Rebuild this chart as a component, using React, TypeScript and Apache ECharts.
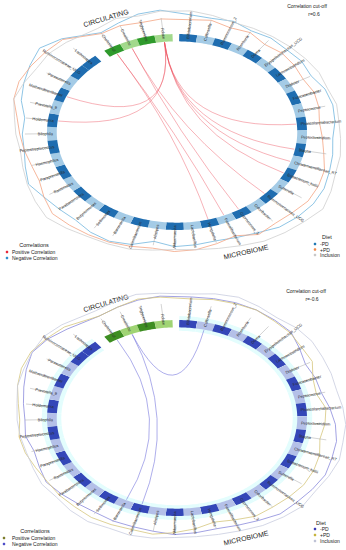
import React, { useEffect, useRef } from "react";
import * as echarts from "echarts";

// ---------------- data ----------------
const circulating = ["Cholesterol", "Creatinine", "Triglycerides", "Folate"];
const microbiome = [
  "Bifidobacterium", "Collinsella", "Ruminococcus_2", "Roseburia", "Dorea",
  "Erysipelotrichaceae_UCG", "Lachnoclostridium", "Dialister", "Fusicatenibacter", "Peptococcus",
  "Phascolarctobacterium", "Peptoclostridium", "Blautia", "Christensenellaceae_R7", "Eubacterium_hallii",
  "Sutterella", "Ruminococcaceae_UCG", "Odoribacter", "Coprococcus_3", "Faecalibacterium",
  "Hungatella", "Lactobacillus", "Akkermansia", "Alistipes", "Catenibacterium",
  "Barnesiella", "Sellimonas", "Butyricimonas", "Parabacteroides", "Bacteroides",
  "Paraprevotella", "Haemophilus", "Peptostreptococcus", "Bilophila", "Holdemania",
  "Prevotella_9", "Methanobrevibacter", "Parasutterella", "Ruminococcaceae_UCG", "Lachnospira",
];

const circulatingShadeTop = [1, 0, 1, 0];
const microbiomeShadeTop = [
  1, 0, 1, 0, 1, 0, 1, 0, 1, 0,
  1, 0, 1, 0, 1, 0, 1, 0, 1, 0,
  1, 0, 1, 0, 1, 0, 1, 0, 1, 0,
  1, 0, 1, 0, 1, 0, 1, 0, 1, 1,
];
const circulatingShadeBottom = [1, 0, 1, 0];
const microbiomeShadeBottom = [
  1, 0, 1, 0, 1, 0, 1, 0, 1, 0,
  1, 0, 1, 0, 1, 0, 1, 0, 1, 0,
  1, 0, 1, 0, 1, 0, 1, 0, 1, 0,
  1, 0, 1, 0, 1, 0, 1, 0, 1, 1,
];

// outer diet traces (radius relative to ring), order: 4 circulating then 40 microbiome
const minusPDTop = [
  1.17, 1.2, 1.24, 1.25,
  1.2, 1.19, 1.21, 1.18, 1.2, 1.19, 1.2, 1.18, 1.22, 1.23,
  1.22, 1.2, 1.22, 1.24, 1.27, 1.28, 1.27, 1.25, 1.2, 1.17,
  1.15, 1.16, 1.17, 1.13, 1.2, 1.23, 1.22, 1.19, 1.2, 1.22,
  1.26, 1.22, 1.19, 1.19, 1.18, 1.24, 1.28, 1.32, 1.36, 1.3,
];
const plusPDTop = [
  1.16, 1.17, 1.15, 1.16,
  1.15, 1.17, 1.14, 1.16, 1.12, 1.14, 1.13, 1.11, 1.13, 1.12,
  1.1, 1.12, 1.15, 1.2, 1.22, 1.23, 1.21, 1.2, 1.22, 1.15,
  1.18, 1.21, 1.22, 1.2, 1.22, 1.24, 1.25, 1.26, 1.27, 1.22,
  1.17, 1.17, 1.19, 1.21, 1.24, 1.3, 1.32, 1.31, 1.3, 1.29,
];
const inclusionTop = [
  1.22, 1.25, 1.22, 1.24,
  1.24, 1.22, 1.2, 1.21, 1.22, 1.23, 1.24, 1.25, 1.24, 1.26,
  1.25, 1.26, 1.28, 1.29, 1.33, 1.37, 1.34, 1.32, 1.3, 1.26,
  1.23, 1.21, 1.2, 1.22, 1.25, 1.26, 1.27, 1.3, 1.33, 1.3,
  1.27, 1.24, 1.22, 1.24, 1.26, 1.3, 1.28, 1.26, 1.27, 1.25,
];
const minusPDBottom = [
  1.2, 1.22, 1.24, 1.25,
  1.24, 1.25, 1.26, 1.26, 1.25, 1.24, 1.18, 1.13, 1.14, 1.14,
  1.18, 1.22, 1.25, 1.26, 1.28, 1.27, 1.26, 1.26, 1.22, 1.19,
  1.17, 1.18, 1.19, 1.17, 1.16, 1.16, 1.15, 1.16, 1.18, 1.2,
  1.17, 1.15, 1.18, 1.17, 1.19, 1.22, 1.26, 1.3, 1.28, 1.24,
];
const plusPDBottom = [
  1.2, 1.22, 1.25, 1.24,
  1.22, 1.24, 1.25, 1.26, 1.24, 1.23, 1.2, 1.19, 1.12, 1.1,
  1.15, 1.14, 1.12, 1.16, 1.18, 1.19, 1.18, 1.17, 1.17, 1.13,
  1.1, 1.14, 1.17, 1.2, 1.19, 1.2, 1.21, 1.2, 1.2, 1.19,
  1.2, 1.22, 1.23, 1.21, 1.23, 1.27, 1.3, 1.31, 1.29, 1.27,
];
const inclusionBottom = [
  1.26, 1.28, 1.3, 1.28,
  1.27, 1.3, 1.32, 1.3, 1.28, 1.3, 1.3, 1.28, 1.27, 1.26,
  1.28, 1.3, 1.3, 1.32, 1.31, 1.3, 1.32, 1.3, 1.28, 1.25,
  1.23, 1.22, 1.22, 1.24, 1.25, 1.24, 1.26, 1.25, 1.23, 1.24,
  1.22, 1.21, 1.22, 1.23, 1.24, 1.27, 1.28, 1.3, 1.32, 1.3,
];

// [circulating index, microbiome index]
const positiveLinks = [
  [3, 10], [3, 12], [3, 13], [3, 14], [3, 34], [3, 36],
  [1, 16], [1, 18], [0, 19], [0, 20],
];
const negativeLinks = [[0, 25], [1, 24], [1, 1]];

const dietNames = ["-PD", "+PD", "Inclusion"];

// ---------------- layout helpers ----------------
const rad = Math.PI / 180;
const SECTOR = 8;
const CIRC_START = 124;
const MICRO_START = 89;
const R_OUT = 1;
const R_IN = 0.925;
const R_LABEL = 0.955;
const R_CHORD = 0.92;
const sectorNames = [...circulating, ...microbiome];
const NC = circulating.length;

function sectorCenter(i: number) {
  return i < NC
    ? CIRC_START - SECTOR * (i + 0.5)
    : MICRO_START - SECTOR * (i - NC + 0.5);
}

const FONT = "'Liberation Sans', Arial, sans-serif";

function makeRing(palette: any) {
  return (params: any, api: any) => {
    const i = api.value(2);
    const shade = api.value(3);
    const isCirc = api.value(4);
    const c = sectorCenter(i);
    const a0 = c + SECTOR / 2;
    const pts: number[][] = [];
    const halo: number[][] = [];
    for (let k = 0; k <= SECTOR; k++) {
      const a = (a0 - k) * rad;
      pts.push(api.coord([R_OUT * Math.cos(a), R_OUT * Math.sin(a)]));
      halo.push(api.coord([1.04 * Math.cos(a), 1.04 * Math.sin(a)]));
    }
    for (let k = SECTOR; k >= 0; k--) {
      const a = (a0 - k) * rad;
      pts.push(api.coord([R_IN * Math.cos(a), R_IN * Math.sin(a)]));
      halo.push(api.coord([0.89 * Math.cos(a), 0.89 * Math.sin(a)]));
    }
    const fill = isCirc
      ? shade ? palette.greenDark : palette.greenLight
      : shade ? palette.blueDark : palette.blueLight;
    const am = c * rad;
    const p0 = api.coord([0, 0]);
    const pl = api.coord([R_LABEL * Math.cos(am), R_LABEL * Math.sin(am)]);
    const t0 = api.coord([1.0 * Math.cos(am), 1.0 * Math.sin(am)]);
    const t1 = api.coord([1.17 * Math.cos(am), 1.17 * Math.sin(am)]);
    const dx = pl[0] - p0[0];
    const dy = pl[1] - p0[1];
    const phi = Math.atan2(-dy, dx);
    const right = dx >= 0;
    const children: any[] = [];
    if (palette.halo && !isCirc) {
      children.push({ type: "polygon", shape: { points: halo }, style: { fill: palette.halo } });
    }
    children.push({ type: "polygon", shape: { points: pts }, style: { fill } });
    children.push({
      type: "line",
      shape: { x1: t0[0], y1: t0[1], x2: t1[0], y2: t1[1] },
      style: { stroke: "#a8a8a8", lineWidth: 0.5 },
    });
    children.push({
      type: "text",
      x: pl[0],
      y: pl[1],
      rotation: right ? phi : phi - Math.PI,
      style: {
        text: sectorNames[i],
        fontSize: 4,
        fontFamily: FONT,
        fill: "#2a2a2a",
        align: right ? "left" : "right",
        verticalAlign: "middle",
      },
    });
    return { type: "group", children };
  };
}

function makeChord(color: string) {
  return (params: any, api: any) => {
    const a = sectorCenter(api.value(2)) * rad;
    const b = sectorCenter(api.value(3)) * rad;
    const p1 = api.coord([R_CHORD * Math.cos(a), R_CHORD * Math.sin(a)]);
    const p2 = api.coord([R_CHORD * Math.cos(b), R_CHORD * Math.sin(b)]);
    const cp = api.coord([0, 0]);
    return {
      type: "bezierCurve",
      shape: { x1: p1[0], y1: p1[1], x2: p2[0], y2: p2[1], cpx1: cp[0], cpy1: cp[1] },
      style: { stroke: color, fill: "none", lineWidth: 0.7 },
    };
  };
}

const panels = [
  {
    top: 4.6,
    circShade: circulatingShadeTop,
    microShade: microbiomeShadeTop,
    diet: [minusPDTop, plusPDTop, inclusionTop],
    dietLine: ["#72b6de", "#f4a583", "#cfcfcf"],
    links: positiveLinks,
    linkColor: "rgba(236,72,86,0.6)",
    palette: {
      blueDark: "#1f6db0",
      blueLight: "#a4cbe6",
      greenDark: "#2f9a2c",
      greenLight: "#a2d98c",
      halo: null,
    },
  },
  {
    top: 290.6,
    circShade: circulatingShadeBottom,
    microShade: microbiomeShadeBottom,
    diet: [minusPDBottom, plusPDBottom, inclusionBottom],
    dietLine: ["#8a8adc", "#d6c67e", "#c9cde0"],
    links: negativeLinks,
    linkColor: "rgba(118,118,222,0.85)",
    palette: {
      blueDark: "#3447b8",
      blueLight: "#b4c0e8",
      greenDark: "#3e8e22",
      greenLight: "#a0d474",
      halo: "#e3fdfd",
    },
  },
];

function buildOption() {
  const series: any[] = [];
  panels.forEach((p, pi) => {
    p.diet.forEach((vals, di) => {
      const pts = vals.map((r, i) => {
        const a = sectorCenter(i) * rad;
        return [r * Math.cos(a), r * Math.sin(a)];
      });
      pts.push(pts[0]);
      series.push({
        type: "line",
        name: dietNames[di],
        xAxisIndex: pi,
        yAxisIndex: pi,
        data: pts,
        symbol: "none",
        clip: false,
        silent: true,
        z: 1,
        lineStyle: { color: p.dietLine[di], width: 0.8 },
      });
    });
    const ringData = sectorNames.map((_, i) => [
      0, 0, i,
      i < NC ? p.circShade[i] : p.microShade[i - NC],
      i < NC ? 1 : 0,
    ]);
    series.push({
      type: "custom",
      xAxisIndex: pi,
      yAxisIndex: pi,
      coordinateSystem: "cartesian2d",
      data: ringData,
      renderItem: makeRing(p.palette),
      silent: true,
      clip: false,
      z: 3,
    });
    series.push({
      type: "custom",
      xAxisIndex: pi,
      yAxisIndex: pi,
      coordinateSystem: "cartesian2d",
      data: p.links.map(([c, m]) => [0, 0, c, NC + m]),
      renderItem: makeChord(p.linkColor),
      silent: true,
      clip: false,
      z: 4,
    });
  });

  const txt = (x: number, y: number, text: string, size: number, extra: any = {}) => ({
    type: "text",
    x,
    y,
    rotation: extra.rotation || 0,
    style: {
      text,
      fontSize: size,
      fontFamily: FONT,
      fill: extra.fill || "#222",
      align: extra.align || "center",
      verticalAlign: "middle",
    },
  });
  const dot = (cx: number, cy: number, fill: string) => ({
    type: "circle",
    shape: { cx, cy, r: 1.3 },
    style: { fill },
  });

  const graphic = [
    // panel 1
    txt(106, 18, "CIRCULATING", 7, { rotation: 17 * rad }),
    txt(246, 252, "MICROBIOME", 7, { rotation: 13 * rad }),
    txt(307, 6, "Correlation cut-off", 5),
    txt(314, 14, "r=0.6", 5),
    txt(34, 245, "Correlations", 5.5),
    dot(7, 252, "#e8283a"),
    txt(12, 252, "Positive Correlation", 5, { align: "left" }),
    dot(7, 258, "#2f8fce"),
    txt(12, 258, "Negative Correlation", 5, { align: "left" }),
    txt(327, 237, "Diet", 5.5),
    dot(315, 244, "#1f78b4"),
    txt(320, 244, "-PD", 5, { align: "left" }),
    dot(315, 249.5, "#f08a4b"),
    txt(320, 249.5, "+PD", 5, { align: "left" }),
    dot(315, 255, "#c8c8c8"),
    txt(320, 255, "Inclusion", 5, { align: "left" }),
    // panel 2
    txt(106, 303, "CIRCULATING", 7, { rotation: 17 * rad }),
    txt(246, 538, "MICROBIOME", 7, { rotation: 13 * rad }),
    txt(306, 291, "Correlation cut-off", 5),
    txt(312, 299, "r=-0.6", 5),
    txt(35, 531, "Correlations", 5.5),
    dot(4, 538, "#7c7c2a"),
    txt(12, 538, "Positive Correlation", 5, { align: "left" }),
    dot(4, 544, "#4b4bc8"),
    txt(12, 544, "Negative Correlation", 5, { align: "left" }),
    txt(321, 523, "Diet", 5.5),
    dot(315, 529, "#3b3bb5"),
    txt(320, 529, "-PD", 5, { align: "left" }),
    dot(315, 535, "#c6b43c"),
    txt(320, 535, "+PD", 5, { align: "left" }),
    dot(315, 541, "#bfc3d6"),
    txt(320, 541, "Inclusion", 5, { align: "left" }),
  ];

  return {
    animation: false,
    backgroundColor: "#ffffff",
    grid: panels.map((p) => ({ left: 8, width: 338, top: p.top, height: 254.8 })),
    xAxis: panels.map((_, i) => ({ type: "value", gridIndex: i, min: -1.3, max: 1.3, show: false })),
    yAxis: panels.map((_, i) => ({ type: "value", gridIndex: i, min: -1.3, max: 1.3, show: false })),
    series,
    graphic,
  };
}

export default function App() {
  const ref = useRef<HTMLDivElement>(null);
  useEffect(() => {
    document.body.style.margin = "0";
    if (!ref.current) return;
    const chart = echarts.init(ref.current, undefined, { renderer: "svg", width: 346, height: 550 });
    chart.setOption(buildOption() as any);
    return () => chart.dispose();
  }, []);
  return <div ref={ref} style={{ width: 346, height: 550 }} />;
}
